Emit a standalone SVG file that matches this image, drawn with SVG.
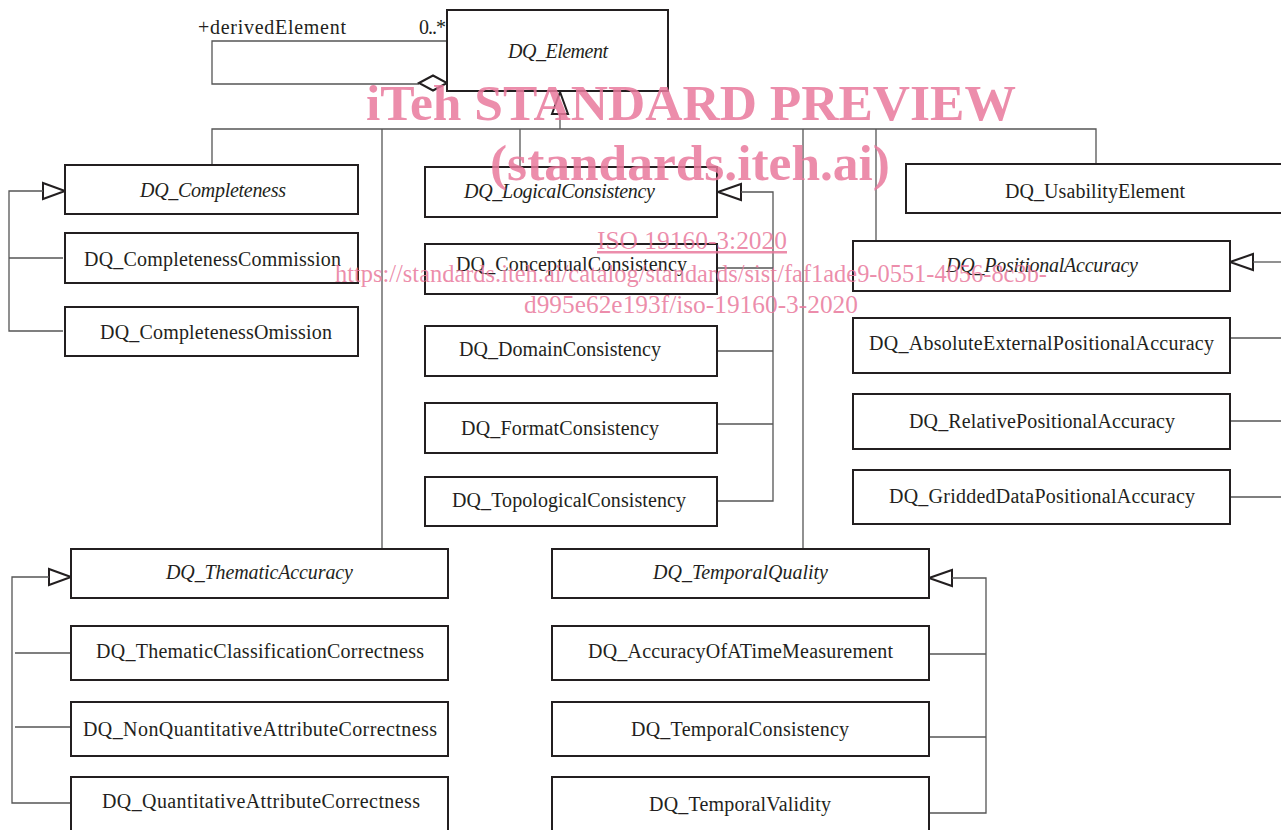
<svg xmlns="http://www.w3.org/2000/svg" width="1281" height="830" viewBox="0 0 1281 830">
  <style>
    .box { fill: #fff; stroke: #231f20; stroke-width: 2; }
    .lbl { font-family: "Liberation Serif", "DejaVu Serif", serif; font-size: 20px; fill: #231f20; }
    .abs { font-style: italic; }
    .con { fill: none; stroke: #555; stroke-width: 1.3; }
    .gen { fill: #fff; stroke: #231f20; stroke-width: 2; }
    .wm { font-family: "Liberation Serif", serif; fill: #e9799c; fill-opacity: 0.85; }
    .wmb { font-weight: bold; font-size: 50px; }
    .wms { font-size: 25px; }
  </style>

  <!-- connectors -->
  <g id="connectors">
    <!-- self aggregation on DQ_Element -->
    <polyline class="con" points="447,41 212,41 212,84 419,84"/>
    <polygon class="gen" points="419,83 433,75.5 447,83 433,90.5"/>
    <!-- main generalization tree -->
    <polygon class="gen" points="560,92 552,114 568,114"/>
    <line class="con" x1="560" y1="114" x2="560" y2="129"/>
    <polyline class="con" points="212,165 212,129 1096,129 1096,164"/>
    <line class="con" x1="382" y1="129" x2="382" y2="549"/>
    <line class="con" x1="520" y1="129" x2="520" y2="167"/>
    <line class="con" x1="803" y1="129" x2="803" y2="549"/>
    <line class="con" x1="876" y1="129" x2="876" y2="241"/>

    <!-- completeness subtypes -->
    <polygon class="gen" points="65,191 43,183 43,199"/>
    <polyline class="con" points="43,191 9,191 9,331 63,331"/>
    <line class="con" x1="9" y1="258" x2="63" y2="258"/>

    <!-- logical consistency subtypes -->
    <polygon class="gen" points="718,192 741,184 741,200"/>
    <polyline class="con" points="741,192 773,192 773,501 717,501"/>
    <line class="con" x1="717" y1="268" x2="773" y2="268"/>
    <line class="con" x1="717" y1="351" x2="773" y2="351"/>
    <line class="con" x1="717" y1="424" x2="773" y2="424"/>

    <!-- positional accuracy subtypes -->
    <polygon class="gen" points="1230,262 1253,254 1253,270"/>
    <line class="con" x1="1253" y1="262" x2="1281" y2="262"/>
    <line class="con" x1="1230" y1="338" x2="1281" y2="338"/>
    <line class="con" x1="1230" y1="421" x2="1281" y2="421"/>
    <line class="con" x1="1230" y1="497" x2="1281" y2="497"/>

    <!-- thematic accuracy subtypes -->
    <polygon class="gen" points="71,577 49,569 49,585"/>
    <polyline class="con" points="49,577 12,577 12,803 70,803"/>
    <line class="con" x1="15" y1="653" x2="71" y2="653"/>
    <line class="con" x1="15" y1="727" x2="71" y2="727"/>

    <!-- temporal quality subtypes -->
    <polygon class="gen" points="929,578 952,570 952,586"/>
    <polyline class="con" points="952,578 986,578 986,813 929,813"/>
    <line class="con" x1="929" y1="654" x2="986" y2="654"/>
    <line class="con" x1="929" y1="737" x2="986" y2="737"/>

    <text class="lbl" x="198" y="34" textLength="148">+derivedElement</text>
    <text class="lbl" x="419" y="34" textLength="27">0..*</text>
  </g>

  <g id="DQ_Element">
    <rect class="box" x="447" y="10" width="221" height="81"/>
    <text class="lbl abs" x="508" y="58" textLength="100">DQ_Element</text>
  </g>

  <g id="DQ_Completeness">
    <rect class="box" x="65" y="165" width="293" height="49"/>
    <text class="lbl abs" x="140" y="197" textLength="146">DQ_Completeness</text>
  </g>
  <g id="DQ_CompletenessCommission">
    <rect class="box" x="65" y="233" width="293" height="50"/>
    <text class="lbl" x="84" y="266" textLength="257">DQ_CompletenessCommission</text>
  </g>
  <g id="DQ_CompletenessOmission">
    <rect class="box" x="65" y="307" width="293" height="49"/>
    <text class="lbl" x="100" y="339" textLength="232">DQ_CompletenessOmission</text>
  </g>

  <g id="DQ_LogicalConsistency">
    <rect class="box" x="425" y="167" width="292" height="50"/>
    <text class="lbl abs" x="464" y="198" textLength="191">DQ_LogicalConsistency</text>
  </g>
  <g id="DQ_ConceptualConsistency">
    <rect class="box" x="425" y="244" width="292" height="50"/>
    <text class="lbl" x="456" y="271" textLength="231">DQ_ConceptualConsistency</text>
  </g>
  <g id="DQ_DomainConsistency">
    <rect class="box" x="425" y="326" width="292" height="50"/>
    <text class="lbl" x="459" y="356" textLength="202">DQ_DomainConsistency</text>
  </g>
  <g id="DQ_FormatConsistency">
    <rect class="box" x="425" y="403" width="292" height="50"/>
    <text class="lbl" x="461" y="435" textLength="198">DQ_FormatConsistency</text>
  </g>
  <g id="DQ_TopologicalConsistency">
    <rect class="box" x="425" y="477" width="292" height="49"/>
    <text class="lbl" x="452" y="507" textLength="234">DQ_TopologicalConsistency</text>
  </g>

  <g id="DQ_UsabilityElement">
    <rect class="box" x="906" y="164" width="390" height="49"/>
    <text class="lbl" x="1005" y="198" textLength="180">DQ_UsabilityElement</text>
  </g>

  <g id="DQ_PositionalAccuracy">
    <rect class="box" x="853" y="241" width="377" height="50"/>
    <text class="lbl abs" x="946" y="272" textLength="192">DQ_PositionalAccuracy</text>
  </g>
  <g id="DQ_AbsoluteExternalPositionalAccuracy">
    <rect class="box" x="853" y="318" width="377" height="55"/>
    <text class="lbl" x="869" y="350" textLength="345">DQ_AbsoluteExternalPositionalAccuracy</text>
  </g>
  <g id="DQ_RelativePositionalAccuracy">
    <rect class="box" x="853" y="394" width="377" height="55"/>
    <text class="lbl" x="909" y="428" textLength="266">DQ_RelativePositionalAccuracy</text>
  </g>
  <g id="DQ_GriddedDataPositionalAccuracy">
    <rect class="box" x="853" y="470" width="377" height="54"/>
    <text class="lbl" x="889" y="503" textLength="306">DQ_GriddedDataPositionalAccuracy</text>
  </g>

  <g id="DQ_ThematicAccuracy">
    <rect class="box" x="71" y="549" width="377" height="49"/>
    <text class="lbl abs" x="166" y="579" textLength="187">DQ_ThematicAccuracy</text>
  </g>
  <g id="DQ_ThematicClassificationCorrectness">
    <rect class="box" x="71" y="626" width="377" height="54"/>
    <text class="lbl" x="96" y="658" textLength="328">DQ_ThematicClassificationCorrectness</text>
  </g>
  <g id="DQ_NonQuantitativeAttributeCorrectness">
    <rect class="box" x="71" y="702" width="377" height="54"/>
    <text class="lbl" x="83" y="736" textLength="354">DQ_NonQuantitativeAttributeCorrectness</text>
  </g>
  <g id="DQ_QuantitativeAttributeCorrectness">
    <rect class="box" x="71" y="777" width="377" height="70"/>
    <text class="lbl" x="102" y="808" textLength="318">DQ_QuantitativeAttributeCorrectness</text>
  </g>

  <g id="DQ_TemporalQuality">
    <rect class="box" x="552" y="549" width="377" height="49"/>
    <text class="lbl abs" x="653" y="579" textLength="175">DQ_TemporalQuality</text>
  </g>
  <g id="DQ_AccuracyOfATimeMeasurement">
    <rect class="box" x="552" y="626" width="377" height="54"/>
    <text class="lbl" x="588" y="658" textLength="305">DQ_AccuracyOfATimeMeasurement</text>
  </g>
  <g id="DQ_TemporalConsistency">
    <rect class="box" x="552" y="702" width="377" height="54"/>
    <text class="lbl" x="631" y="736" textLength="218">DQ_TemporalConsistency</text>
  </g>
  <g id="DQ_TemporalValidity">
    <rect class="box" x="552" y="777" width="377" height="70"/>
    <text class="lbl" x="649" y="811" textLength="182">DQ_TemporalValidity</text>
  </g>

  <!-- publisher overlay text -->
  <g id="overlay">
    <text class="wm wmb" x="366" y="120" textLength="650" lengthAdjust="spacingAndGlyphs">iTeh STANDARD PREVIEW</text>
    <text class="wm wmb" x="490" y="180" textLength="400" lengthAdjust="spacingAndGlyphs">(standards.iteh.ai)</text>
    <text class="wm wms" x="597" y="249" textLength="190" lengthAdjust="spacingAndGlyphs" text-decoration="underline">ISO 19160-3:2020</text>
    <text class="wm wms" x="335" y="282" textLength="712" lengthAdjust="spacingAndGlyphs">https://standards.iteh.ai/catalog/standards/sist/faf1ade9-0551-4056-8c3b-</text>
    <text class="wm wms" x="524" y="313" textLength="334" lengthAdjust="spacingAndGlyphs">d995e62e193f/iso-19160-3-2020</text>
  </g>
</svg>
